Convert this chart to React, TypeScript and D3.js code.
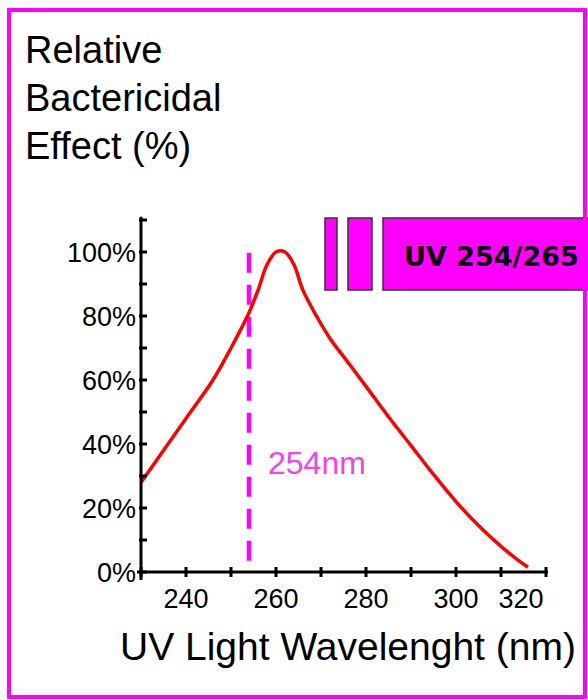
import React from "react";
import * as d3 from "d3";

// Data
const wavelengths = [230, 240, 246, 250, 254, 256, 258, 260, 262, 264, 266, 269, 272, 276, 280, 285, 290, 295, 300, 305, 310, 314, 316];
const effect = [28, 48, 60, 70, 81, 88, 96, 100, 100, 96, 88, 80, 73, 65.5, 58, 48.5, 39.5, 30.5, 22, 14.5, 8, 3.5, 1.5];
const xTickValues = [230, 240, 250, 260, 270, 280, 290, 300, 310, 320];
const xTickLabels = [240, 260, 280, 300, 320];
const yTickValues = [0, 10, 20, 30, 40, 50, 60, 70, 80, 90, 100, 110];
const yTickLabels = [0, 20, 40, 60, 80, 100];
const markerWavelength = 254;
const markerLabel = "254nm";
const titleLines = ["Relative", "Bactericidal", "Effect (%)"];
const xAxisTitle = "UV Light Wavelenght (nm)";
const legendText = "UV 254/265";

const W = 588;
const H = 700;
const ARIAL = "Liberation Sans, Arial, Helvetica, sans-serif";

export default function App() {
  const x = d3.scaleLinear().domain([230, 320]).range([141, 546]);
  const y = d3.scaleLinear().domain([0, 100]).range([572, 252]);
  const data = wavelengths.map((w, i) => ({ w, v: effect[i] }));
  const line = d3
    .line<{ w: number; v: number }>()
    .x((d) => x(d.w))
    .y((d) => y(d.v))
    .curve(d3.curveCatmullRom.alpha(0.5));

  const arial = { fontFamily: ARIAL } as React.CSSProperties;

  return (
    <svg
      width={W}
      height={H}
      style={{ position: "absolute", left: 0, top: 0, background: "#fff" }}
    >
      <rect x={0} y={0} width={W} height={H} fill="#fff" />

      {/* Title */}
      {titleLines.map((t, i) => (
        <text key={t} x={25} y={63 + i * 48} style={arial} fontSize={38} fill="#000">
          {t}
        </text>
      ))}

      {/* Marker dashed line */}
      <line
        x1={x(markerWavelength)}
        x2={x(markerWavelength)}
        y1={y(101)}
        y2={y(0)}
        stroke="#ff00ff"
        strokeWidth={4.5}
        strokeDasharray="20 12"
        strokeDashoffset={-4}
      />
      <text x={x(markerWavelength) + 19} y={474} style={arial} fontSize={32} fill="#ee44ee">
        {markerLabel}
      </text>

      {/* Curve */}
      <path d={line(data) || ""} fill="none" stroke="#ff0000" strokeWidth={3.5} strokeLinejoin="round" />

      {/* Y axis */}
      <line x1={x(230)} x2={x(230)} y1={y(111)} y2={y(0) + 8} stroke="#000" strokeWidth={3} />
      {yTickValues.map((v) => (
        <line key={"yt" + v} x1={x(230) - 2} x2={x(230) + 6} y1={y(v)} y2={y(v)} stroke="#000" strokeWidth={3} />
      ))}
      {yTickLabels.map((v) => (
        <text key={"yl" + v} x={136} y={y(v) + 10} textAnchor="end" style={arial} fontSize={27} fill="#000">
          {v + "%"}
        </text>
      ))}

      {/* X axis */}
      <line x1={x(230) - 4} x2={x(320) + 2} y1={y(0)} y2={y(0)} stroke="#000" strokeWidth={3} />
      {xTickValues.map((v) => (
        <line key={"xt" + v} x1={x(v)} x2={x(v)} y1={y(0) - 5} y2={y(0) + 5} stroke="#000" strokeWidth={3} />
      ))}
      {xTickLabels.map((v, i) => (
        <text
          key={"xl" + v}
          x={x(v)}
          dx={i === xTickLabels.length - 1 ? -25 : 0}
          y={608}
          textAnchor="middle"
          style={arial}
          fontSize={27}
          fill="#000"
        >
          {v}
        </text>
      ))}
      <text x={120} y={660} style={arial} fontSize={39} fill="#000">
        {xAxisTitle}
      </text>

      {/* Legend */}
      <g stroke="#333" strokeWidth={1.5} fill="#ff00ff">
        <rect x={325} y={218} width={12} height={72} />
        <rect x={348} y={218} width={24} height={72} />
        <rect x={383} y={218} width={215} height={72} />
      </g>
      <text
        x={404}
        y={266}
        style={{ fontFamily: "DejaVu Sans, Verdana, sans-serif" }}
        fontWeight="bold"
        fontSize={27}
        fill="#000"
      >
        {legendText}
      </text>

      {/* Frame */}
      <rect x={9} y={10} width={576} height={687} fill="none" stroke="#ff00ff" strokeWidth={4} />
    </svg>
  );
}
